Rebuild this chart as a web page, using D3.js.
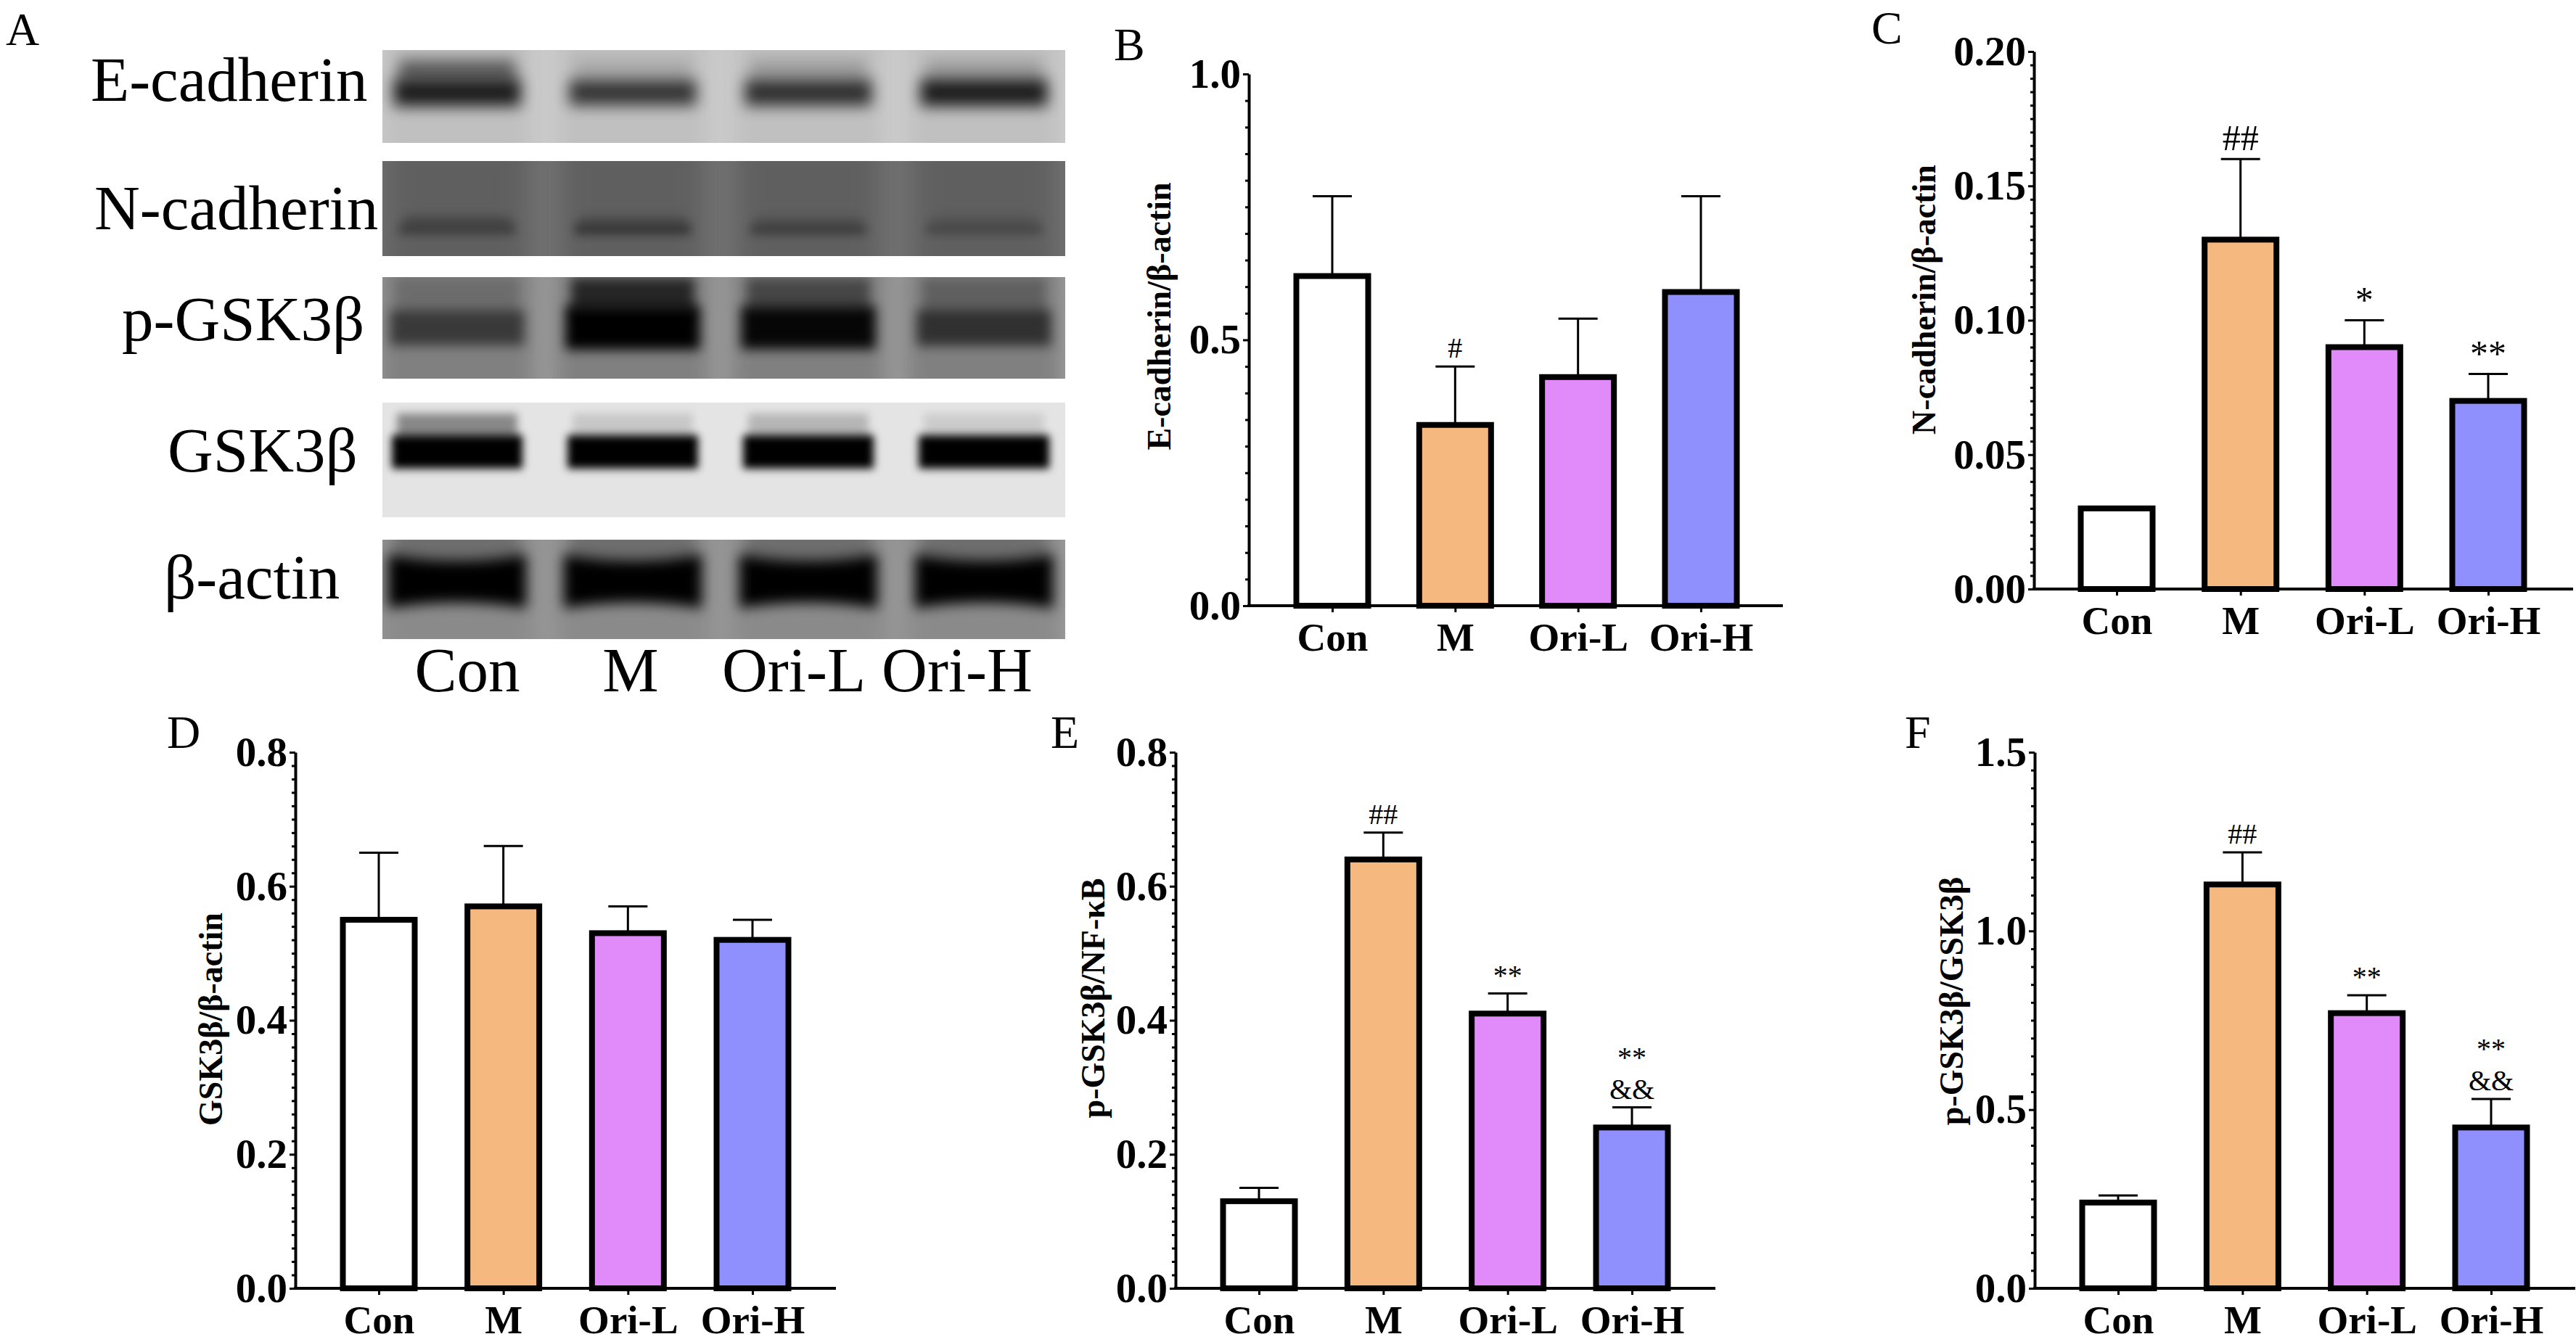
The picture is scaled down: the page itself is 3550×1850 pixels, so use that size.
<!DOCTYPE html>
<html>
<head>
<meta charset="utf-8">
<script src="https://cdn.jsdelivr.net/npm/d3@7"></script>
<style>
  body { margin: 0; background: #fff; }
  text { font-family: "Liberation Serif", "Times New Roman", serif; }
</style>
</head>
<body>
<script>
// ---- data ----
const categories = ['Con', 'M', 'Ori-L', 'Ori-H'];

// western blot: relative band density per lane (0..1)
const blotRows = ['E-cadherin', 'N-cadherin', 'p-GSK3β', 'GSK3β', 'β-actin'];
const eCadBand = [0.85, 0.72, 0.75, 0.85];
const nCadBand = [0.4, 0.5, 0.42, 0.3];
const pGskBand = [0.55, 1.0, 0.95, 0.62];
const gskBand = [1, 1, 1, 1];
const actinBand = [1, 1, 1, 1];
// faint smear above the main band
const eCadSmear = [0.5, 0.12, 0.18, 0.18];
const nCadSmear = [0.25, 0.2, 0.15, 0.12];
const pGskSmear = [0.15, 0.7, 0.45, 0.25];
const gskSmear = [0.4, 0.12, 0.2, 0.1];
const actinSmear = [0.2, 0.2, 0.2, 0.2];

// bar charts: mean and upper SD
const eCadMean = [0.62, 0.34, 0.43, 0.59];
const eCadErr = [0.15, 0.11, 0.11, 0.18];
const eCadMarks = [[], ['#'], [], []];

const nCadMean = [0.03, 0.13, 0.09, 0.07];
const nCadErr = [0, 0.03, 0.01, 0.01];
const nCadMarks = [[], ['##'], ['*'], ['**']];

const gskMean = [0.55, 0.57, 0.53, 0.52];
const gskErr = [0.10, 0.09, 0.04, 0.03];
const gskMarks = [[], [], [], []];

const pGskNfMean = [0.13, 0.64, 0.41, 0.24];
const pGskNfErr = [0.02, 0.04, 0.03, 0.03];
const pGskNfMarks = [[], ['##'], ['**'], ['**', '&&']];

const pGskGskMean = [0.24, 1.13, 0.77, 0.45];
const pGskGskErr = [0.02, 0.09, 0.05, 0.08];
const pGskGskMarks = [[], ['##'], ['**'], ['**', '&&']];

const barColors = ['#ffffff', '#f5b97f', '#e08bf9', '#8f8ffd'];

// ---- page ----
const W = 3550, H = 1850;
const svg = d3.select('body').append('svg')
    .attr('width', W).attr('height', H)
    .style('background', '#fff');
const defs = svg.append('defs');
defs.append('filter').attr('id', 'blurLane')
    .attr('x', '-50%').attr('y', '-50%').attr('width', '200%').attr('height', '200%')
    .append('feGaussianBlur').attr('stdDeviation', 16);

// ---- panel A: blot ----
const blotX0 = 527, blotX1 = 1468;
const blotStyle = [
    {y0: 69, y1: 197, bg: '#cdcdcd', lane: 0.06, cy: 0.46, h: 40, w: 175, pinch: 0, blur: 10, lx: 125, ly: 139},
    {y0: 222, y1: 353, bg: '#707070', lane: 0.14, cy: 0.72, h: 16, w: 160, pinch: 0, blur: 7, lx: 130, ly: 316},
    {y0: 382, y1: 522, bg: '#a9a9a9', lane: 0.24, cy: 0.5, h: 60, w: 185, pinch: 0, blur: 8, lx: 168, ly: 469},
    {y0: 555, y1: 713, bg: '#e4e4e4', lane: 0, cy: 0.43, h: 46, w: 180, pinch: 0, blur: 6, lx: 231, ly: 650},
    {y0: 744, y1: 881, bg: '#a6a6a6', lane: 0.16, cy: 0.42, h: 74, w: 190, pinch: 8, blur: 9, lx: 226, ly: 825}
];
const blotTable = blotRows.map((name, i) => ({
    name,
    bands: [eCadBand, nCadBand, pGskBand, gskBand, actinBand][i],
    smear: [eCadSmear, nCadSmear, pGskSmear, gskSmear, actinSmear][i],
    st: blotStyle[i]
}));

const laneX = d3.scalePoint().domain(categories).range([630, 1356]);
const laneLabelX = d3.scalePoint().domain(categories).range([644, 1319]);

const blot = svg.append('g').attr('class', 'blot');
blotTable.forEach((row, i) => {
    const st = row.st;
    defs.append('filter').attr('id', 'blurBand' + i)
        .attr('x', '-50%').attr('y', '-100%').attr('width', '200%').attr('height', '300%')
        .append('feGaussianBlur').attr('stdDeviation', st.blur);
    defs.append('clipPath').attr('id', 'clipRow' + i)
        .append('rect').attr('x', blotX0).attr('y', st.y0)
        .attr('width', blotX1 - blotX0).attr('height', st.y1 - st.y0);
    const g = blot.append('g').attr('clip-path', `url(#clipRow${i})`);
    g.append('rect').attr('x', blotX0).attr('y', st.y0)
        .attr('width', blotX1 - blotX0).attr('height', st.y1 - st.y0)
        .attr('fill', st.bg);
    // lane shading
    g.selectAll('rect.lane').data(categories).join('rect')
        .attr('class', 'lane')
        .attr('x', d => laneX(d) - st.w * 0.6)
        .attr('width', st.w * 1.2)
        .attr('y', st.y0 - 30).attr('height', st.y1 - st.y0 + 60)
        .attr('fill', '#000').attr('opacity', st.lane)
        .attr('filter', 'url(#blurLane)');
    const cy = st.y0 + (st.y1 - st.y0) * st.cy;
    const laneData = row.bands.map((v, j) => ({c: categories[j], v, s: row.smear[j]}));
    // smear above band
    g.selectAll('rect.smear').data(laneData).join('rect')
        .attr('class', 'smear')
        .attr('x', d => laneX(d.c) - st.w * 0.46)
        .attr('width', st.w * 0.92)
        .attr('y', cy - st.h * 1.15)
        .attr('height', st.h * 0.8)
        .attr('fill', '#000')
        .attr('opacity', d => d.s)
        .attr('filter', `url(#blurBand${i})`);
    // bands
    g.selectAll('path.band').data(laneData).join('path')
        .attr('class', 'band')
        .attr('d', d => {
            const hw = st.w / 2;
            const hh = st.h / 2 * (0.55 + 0.45 * d.v);
            const xc = laneX(d.c);
            return `M${xc - hw},${cy - hh}Q${xc},${cy - hh + st.pinch * 2} ${xc + hw},${cy - hh}` +
                `L${xc + hw},${cy + hh}Q${xc},${cy + hh - st.pinch * 2} ${xc - hw},${cy + hh}Z`;
        })
        .attr('fill', '#000')
        .attr('opacity', d => d.v)
        .attr('filter', `url(#blurBand${i})`);
    blot.append('text')
        .attr('x', st.lx).attr('y', st.ly)
        .attr('font-size', 87)
        .text(row.name);
});
blot.selectAll('text.lanelabel').data(categories).join('text')
    .attr('class', 'lanelabel')
    .attr('x', d => laneLabelX(d)).attr('y', 953)
    .attr('text-anchor', 'middle')
    .attr('font-size', 87)
    .text(d => d);
svg.append('text').attr('x', 8).attr('y', 62).attr('font-size', 64).text('A');

// ---- bar panels ----
const panels = [
    {key: 'B', title: 'E-cadherin/β-actin', mean: eCadMean, err: eCadErr, marks: eCadMarks, max: 1.0, major: 0.5, minor: 0.05, fmt: '.1f'},
    {key: 'C', title: 'N-cadherin/β-actin', mean: nCadMean, err: nCadErr, marks: nCadMarks, max: 0.2, major: 0.05, minor: 0.005, fmt: '.2f'},
    {key: 'D', title: 'GSK3β/β-actin', mean: gskMean, err: gskErr, marks: gskMarks, max: 0.8, major: 0.2, minor: 0.02, fmt: '.1f'},
    {key: 'E', title: 'p-GSK3β/NF-κB', mean: pGskNfMean, err: pGskNfErr, marks: pGskNfMarks, max: 0.8, major: 0.2, minor: 0.02, fmt: '.1f'},
    {key: 'F', title: 'p-GSK3β/GSK3β', mean: pGskGskMean, err: pGskGskErr, marks: pGskGskMarks, max: 1.5, major: 0.5, minor: 0.05, fmt: '.1f'}
];
const layout = {
    B: {ax: 1721, c0: 1836, c3: 2344, top: 102, bot: 835, end: 2457, ylx: 1613, yly: 436, lx: 1535, ly: 83, ms: 40},
    C: {ax: 2803, c0: 2917, c3: 3429, top: 71, bot: 812, end: 3546, ylx: 2667, yly: 413, lx: 2579, ly: 60, ms: 50},
    D: {ax: 407, c0: 522, c3: 1037, top: 1037, bot: 1776, end: 1152, ylx: 306, yly: 1405, lx: 230, ly: 1031, ms: 40},
    E: {ax: 1620, c0: 1735, c3: 2249, top: 1037, bot: 1776, end: 2364, ylx: 1522, yly: 1376, lx: 1448, ly: 1031, ms: 40},
    F: {ax: 2804, c0: 2919, c3: 3433, top: 1037, bot: 1776, end: 3549, ylx: 2705, yly: 1380, lx: 2625, ly: 1031, ms: 40}
};

const barW = 99, capW = 54;

function drawPanel(p) {
    const L = layout[p.key];
    const g = svg.append('g').attr('class', 'panel' + p.key);
    const y = d3.scaleLinear().domain([0, p.max]).range([L.bot, L.top]);
    const x = d3.scalePoint().domain(categories).range([L.c0, L.c3]);
    const data = categories.map((c, i) => ({c, m: p.mean[i], e: p.err[i], marks: p.marks[i], col: barColors[i]}));

    const majors = d3.range(0, p.max + p.major / 2, p.major);
    const minors = d3.range(0, p.max + p.minor / 2, p.minor)
        .filter(v => Math.abs(v / p.major - Math.round(v / p.major)) > 1e-6);

    g.append('g').attr('transform', `translate(${L.ax},0)`)
        .call(d3.axisLeft(y).tickValues(minors).tickSize(5).tickFormat(''))
        .call(s => s.select('.domain').remove())
        .selectAll('line').attr('stroke-width', 3);

    const ya = g.append('g').attr('transform', `translate(${L.ax},0)`)
        .call(d3.axisLeft(y).tickValues(majors).tickSize(8).tickSizeOuter(0).tickPadding(3).tickFormat(d3.format(p.fmt)))
        .attr('font-size', 57).attr('font-weight', 'bold')
        .attr('font-family', '"Liberation Serif", "Times New Roman", serif');
    ya.select('.domain').attr('stroke-width', 4);
    ya.selectAll('.tick line').attr('stroke-width', 3);
    ya.selectAll('.tick text').attr('fill', '#000');

    // error bars
    const eb = g.selectAll('g.err').data(data.filter(d => d.e > 0)).join('g').attr('class', 'err');
    eb.append('line')
        .attr('x1', d => x(d.c)).attr('x2', d => x(d.c))
        .attr('y1', d => y(d.m)).attr('y2', d => y(d.m + d.e))
        .attr('stroke', '#000').attr('stroke-width', 3);
    eb.append('line')
        .attr('x1', d => x(d.c) - capW / 2).attr('x2', d => x(d.c) + capW / 2)
        .attr('y1', d => y(d.m + d.e)).attr('y2', d => y(d.m + d.e))
        .attr('stroke', '#000').attr('stroke-width', 3);

    // bars
    g.selectAll('rect.bar').data(data).join('rect')
        .attr('class', 'bar')
        .attr('x', d => x(d.c) - barW / 2)
        .attr('width', barW)
        .attr('y', d => y(d.m))
        .attr('height', d => y(0) - y(d.m))
        .attr('fill', d => d.col)
        .attr('stroke', '#000').attr('stroke-width', 8);

    // x axis
    g.append('line')
        .attr('x1', L.ax - 2).attr('x2', L.end)
        .attr('y1', y(0)).attr('y2', y(0))
        .attr('stroke', '#000').attr('stroke-width', 4);
    const xa = g.append('g').attr('transform', `translate(0,${y(0)})`)
        .call(d3.axisBottom(x).tickSize(9).tickPadding(14).tickSizeOuter(0))
        .attr('font-size', 55).attr('font-weight', 'bold')
        .attr('font-family', '"Liberation Serif", "Times New Roman", serif');
    xa.select('.domain').remove();
    xa.selectAll('.tick line').attr('stroke-width', 3);
    xa.selectAll('.tick text').attr('fill', '#000');

    // significance marks
    data.forEach(d => {
        const base = y(d.m + d.e) - 12;
        const n = d.marks.length;
        d.marks.forEach((t, k) => {
            g.append('text')
                .attr('x', x(d.c))
                .attr('y', base - (n - 1 - k) * L.ms * 1.1)
                .attr('text-anchor', 'middle')
                .attr('font-size', L.ms)
                .text(t);
        });
    });

    // y label
    g.append('text')
        .attr('transform', `translate(${L.ylx},${L.yly}) rotate(-90)`)
        .attr('text-anchor', 'middle')
        .attr('font-size', 46).attr('font-weight', 'bold')
        .text(p.title);

    // panel letter
    svg.append('text').attr('x', L.lx).attr('y', L.ly)
        .attr('font-size', 64).text(p.key);
}

panels.forEach(drawPanel);
</script>
</body>
</html>
